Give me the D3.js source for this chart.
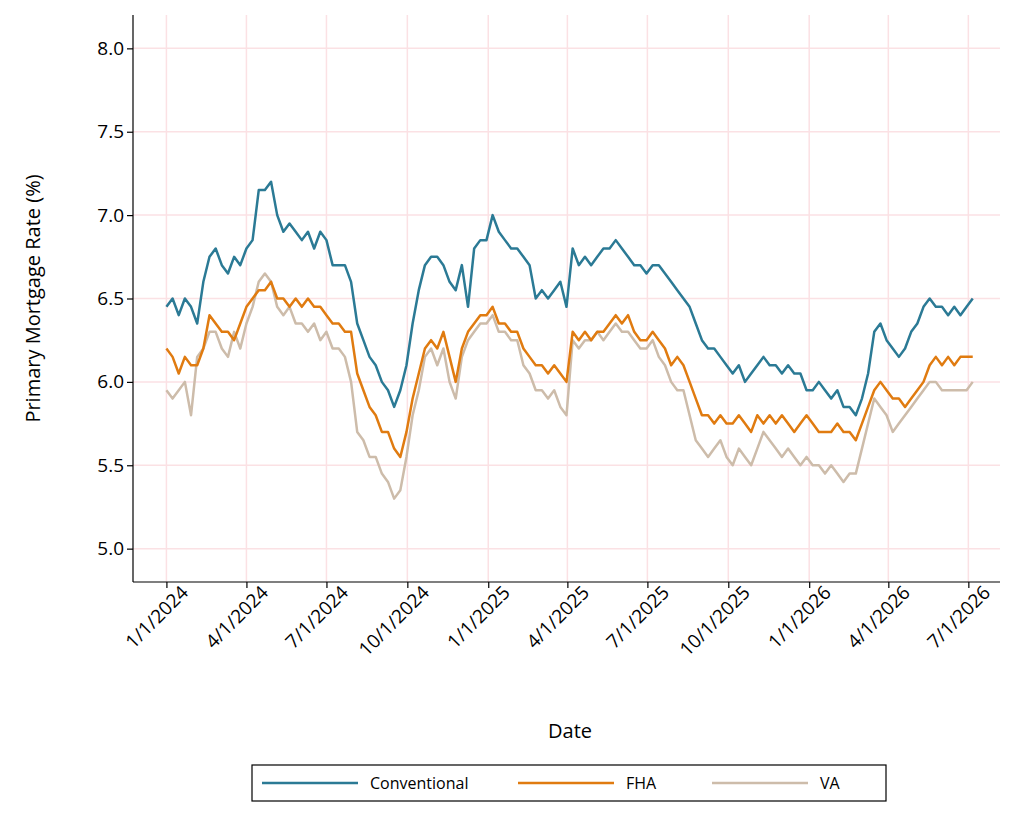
<!DOCTYPE html>
<html><head><meta charset="utf-8">
<script src="https://cdn.jsdelivr.net/npm/d3@7"></script>
<style>body{margin:0;background:#fff}text{font-family:"Open Sans","Noto Sans",sans-serif}</style>
</head><body><svg id="c" width="1024" height="818"></svg>
<script>
// weekly readings starting 1/1/2024
var conventional = [6.45,6.5,6.4,6.5,6.45,6.35,6.6,6.75,6.8,6.7,6.65,6.75,6.7,6.8,6.85,7.15,7.15,7.2,7.0,6.9,6.95,6.9,6.85,6.9,6.8,6.9,6.85,6.7,6.7,6.7,6.6,6.35,6.25,6.15,6.1,6.0,5.95,5.85,5.95,6.1,6.35,6.55,6.7,6.75,6.75,6.7,6.6,6.55,6.7,6.45,6.8,6.85,6.85,7.0,6.9,6.85,6.8,6.8,6.75,6.7,6.5,6.55,6.5,6.55,6.6,6.45,6.8,6.7,6.75,6.7,6.75,6.8,6.8,6.85,6.8,6.75,6.7,6.7,6.65,6.7,6.7,6.65,6.6,6.55,6.5,6.45,6.35,6.25,6.2,6.2,6.15,6.1,6.05,6.1,6.0,6.05,6.1,6.15,6.1,6.1,6.05,6.1,6.05,6.05,5.95,5.95,6.0,5.95,5.9,5.95,5.85,5.85,5.8,5.9,6.05,6.3,6.35,6.25,6.2,6.15,6.2,6.3,6.35,6.45,6.5,6.45,6.45,6.4,6.45,6.4,6.45,6.5];
var fha = [6.2,6.15,6.05,6.15,6.1,6.1,6.2,6.4,6.35,6.3,6.3,6.25,6.35,6.45,6.5,6.55,6.55,6.6,6.5,6.5,6.45,6.5,6.45,6.5,6.45,6.45,6.4,6.35,6.35,6.3,6.3,6.05,5.95,5.85,5.8,5.7,5.7,5.6,5.55,5.7,5.9,6.05,6.2,6.25,6.2,6.3,6.15,6.0,6.2,6.3,6.35,6.4,6.4,6.45,6.35,6.35,6.3,6.3,6.2,6.15,6.1,6.1,6.05,6.1,6.05,6.0,6.3,6.25,6.3,6.25,6.3,6.3,6.35,6.4,6.35,6.4,6.3,6.25,6.25,6.3,6.25,6.2,6.1,6.15,6.1,6.0,5.9,5.8,5.8,5.75,5.8,5.75,5.75,5.8,5.75,5.7,5.8,5.75,5.8,5.75,5.8,5.75,5.7,5.75,5.8,5.75,5.7,5.7,5.7,5.75,5.7,5.7,5.65,5.75,5.85,5.95,6.0,5.95,5.9,5.9,5.85,5.9,5.95,6.0,6.1,6.15,6.1,6.15,6.1,6.15,6.15,6.15];
var va = [5.95,5.9,5.95,6.0,5.8,6.15,6.2,6.3,6.3,6.2,6.15,6.3,6.2,6.35,6.45,6.6,6.65,6.6,6.45,6.4,6.45,6.35,6.35,6.3,6.35,6.25,6.3,6.2,6.2,6.15,6.0,5.7,5.65,5.55,5.55,5.45,5.4,5.3,5.35,5.55,5.8,5.95,6.15,6.2,6.1,6.2,6.0,5.9,6.15,6.25,6.3,6.35,6.35,6.4,6.3,6.3,6.25,6.25,6.1,6.05,5.95,5.95,5.9,5.95,5.85,5.8,6.25,6.2,6.25,6.25,6.3,6.25,6.3,6.35,6.3,6.3,6.25,6.2,6.2,6.25,6.15,6.1,6.0,5.95,5.95,5.8,5.65,5.6,5.55,5.6,5.65,5.55,5.5,5.6,5.55,5.5,5.6,5.7,5.65,5.6,5.55,5.6,5.55,5.5,5.55,5.5,5.5,5.45,5.5,5.45,5.4,5.45,5.45,5.6,5.75,5.9,5.85,5.8,5.7,5.75,5.8,5.85,5.9,5.95,6.0,6.0,5.95,5.95,5.95,5.95,5.95,6.0];
var seriesNames = ["Conventional","FHA","VA"];
var seriesColors = ["#2b7a95","#e07b10","#cdbcaa"];
var yTicks = [5.0,5.5,6.0,6.5,7.0,7.5,8.0];

var svg = d3.select("#c"),
    L = 133, R = 1000, T = 15, B = 582;
var start = new Date(2024,0,1);
var x = d3.scaleTime().domain([new Date(2023,10,24), new Date(2026,7,6)]).range([L,R]);
var y = d3.scaleLinear().domain([4.8,8.2]).range([B,T]);
var xTicks = d3.timeMonth.every(3).range(start, new Date(2026,6,2));

// grid
svg.append("g").selectAll("line").data(yTicks).join("line")
  .attr("x1",L).attr("x2",R).attr("y1",y).attr("y2",y)
  .attr("stroke","#fbe1e4").attr("stroke-width",1.5);
svg.append("g").selectAll("line").data(xTicks).join("line")
  .attr("x1",x).attr("x2",x).attr("y1",T).attr("y2",B)
  .attr("stroke","#fbe1e4").attr("stroke-width",1.5);

// lines, VA first so conventional sits on top
function toPts(arr) {
  return arr.map(function(v,i){ return [d3.timeDay.offset(start, 7*i), v] })
}
var line = d3.line().x(function(d){ return x(d[0]) }).y(function(d){ return y(d[1]) });
[2,1,0].forEach(function(i){
  var s = [conventional,fha,va][i]
  svg.append("path").datum(toPts(s)).attr("d",line)
    .attr("fill","none").attr("stroke",seriesColors[i]).attr("stroke-width",2.5)
    .attr("stroke-linejoin","round")
});

// axes
var ya = svg.append("g").attr("transform","translate("+L+",0)")
  .call(d3.axisLeft(y).tickValues(yTicks).tickFormat(d3.format(".1f")).tickSize(6).tickSizeOuter(0));
ya.select(".domain").attr("d","M0,"+T+"V"+B);
ya.selectAll("text").attr("font-size",19).attr("fill","#000");
var xa = svg.append("g").attr("transform","translate(0,"+B+")")
  .call(d3.axisBottom(x).tickValues(xTicks).tickFormat(function(d){
    return (d.getMonth()+1)+"/"+d.getDate()+"/"+d.getFullYear() }).tickSize(6).tickSizeOuter(0));
xa.select(".domain").attr("d","M"+L+",0H"+R);
xa.selectAll("text").attr("font-size",19).attr("fill","#000")
  .attr("text-anchor","end").attr("dx","0.4em").attr("dy","0.8em")
  .attr("transform","rotate(-45)");
svg.selectAll(".domain, .tick line").attr("stroke","#000").attr("stroke-width",1.2);

svg.append("text").attr("x",570).attr("y",738).attr("text-anchor","middle")
  .attr("font-size",20).text("Date");
svg.append("text").attr("transform","translate(40,"+((T+B)/2)+") rotate(-90)")
  .attr("text-anchor","middle").attr("font-size",20).text("Primary Mortgage Rate (%)");

// legend
var lg = svg.append("g");
lg.append("rect").attr("x",252).attr("y",765).attr("width",634).attr("height",36)
  .attr("fill","#fff").attr("stroke","#000").attr("stroke-width",1.2);
var lx = [262,518,712];
seriesNames.forEach(function(n,i){
  lg.append("line").attr("x1",lx[i]).attr("x2",lx[i]+96).attr("y1",783).attr("y2",783)
    .attr("stroke",seriesColors[i]).attr("stroke-width",2.5);
  lg.append("text").attr("x",lx[i]+108).attr("y",789).attr("font-size",16).text(n);
});
</script></body></html>
